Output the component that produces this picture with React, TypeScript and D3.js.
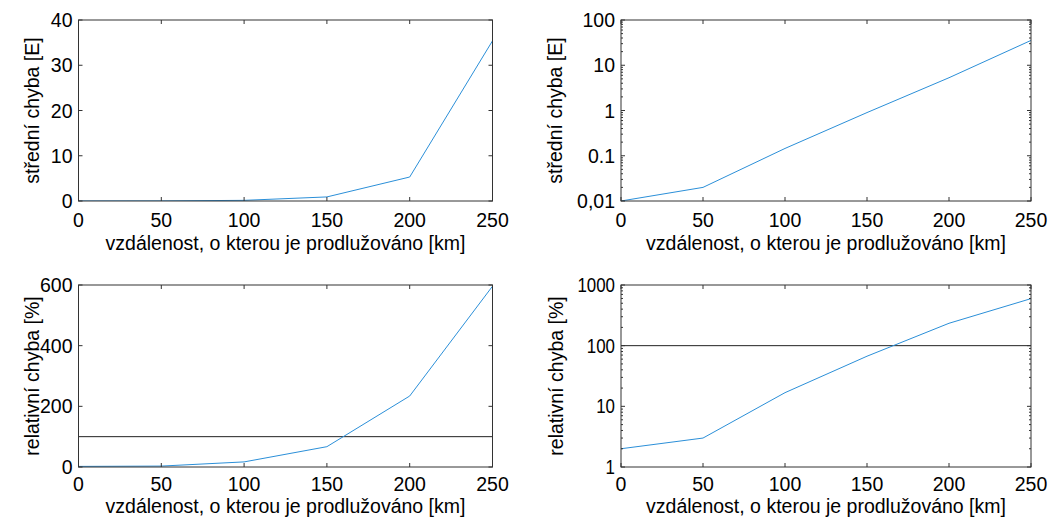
import React from "react";
import * as d3 from "d3";

const distances = [0, 50, 100, 150, 200, 250];
const meanError = [0.01, 0.02, 0.145, 0.9, 5.3, 35.4];
const relError = [2.0, 3.0, 16.8, 67, 234, 596];
const threshold = 100;

const xTicks = [0, 50, 100, 150, 200, 250];
const meanLinTicks = [0, 10, 20, 30, 40];
const meanLogTicks = [0.01, 0.1, 1, 10, 100];
const meanLogLabels = ["0,01", "0.1", "1", "10", "100"];
const relLinTicks = [0, 200, 400, 600];
const relLogTicks = [1, 10, 100, 1000];
const relLogLabels = ["1", "10", "100", "1000"];

const xLabel = "vzdálenost, o kterou je prodlužováno [km]";
const meanYLabel = "střední chyba [E]";
const relYLabel = "relativní chyba [%]";

const FONT = "'Liberation Sans', Arial, sans-serif";
const FS = 19.5;
const LINE = "#2b8fd8";
const AXIS = "#333333";

type PanelProps = {
  left: number; right: number; top: number; bottom: number;
  log: boolean; yDomain: [number, number]; yTicks: number[]; yLabels: string[];
  values: number[]; yLabel: string; yLabelX: number; hline?: number;
  tickBase: number; labelBase: number; yTickLen?: number;
};

function Panel(p: PanelProps) {
  const x = d3.scaleLinear().domain([0, 250]).range([p.left, p.right]);
  const y = p.log
    ? d3.scaleLog().domain(p.yDomain).range([p.bottom, p.top])
    : d3.scaleLinear().domain(p.yDomain).range([p.bottom, p.top]);
  const line = d3.line<number>().x((_, i) => x(distances[i])).y((v) => y(v));
  const minor: number[] = [];
  if (p.log) {
    for (let e = Math.log10(p.yDomain[0]); e < Math.log10(p.yDomain[1]) - 1e-9; e++) {
      for (let k = 2; k <= 9; k++) minor.push(k * Math.pow(10, e));
    }
  }
  const mid = (p.top + p.bottom) / 2;
  return (
    <g fontFamily={FONT} fontSize={FS} fill="#000">
      <defs>
        <clipPath id={`clip${p.left}${p.top}`}>
          <rect x={p.left} y={p.top} width={p.right - p.left} height={p.bottom - p.top} />
        </clipPath>
      </defs>
      {p.hline !== undefined && (
        <line x1={p.left} x2={p.right} y1={y(p.hline)} y2={y(p.hline)} stroke="#222" strokeWidth={1} />
      )}
      <path d={line(p.values) || ""} fill="none" stroke={LINE} strokeWidth={1} clipPath={`url(#clip${p.left}${p.top})`} />
      <rect x={p.left} y={p.top} width={p.right - p.left} height={p.bottom - p.top} fill="none" stroke={AXIS} strokeWidth={1} />
      {xTicks.map((t) => (
        <g key={"x" + t}>
          <line x1={x(t)} x2={x(t)} y1={p.bottom} y2={p.bottom - 4} stroke={AXIS} />
          <line x1={x(t)} x2={x(t)} y1={p.top} y2={p.top + 4} stroke={AXIS} />
          <text x={x(t)} y={p.bottom + p.tickBase} textAnchor="middle">{t}</text>
        </g>
      ))}
      {p.yTicks.map((t, i) => (
        <g key={"y" + t}>
          <line x1={p.left} x2={p.left + 4} y1={y(t)} y2={y(t)} stroke={AXIS} />
          <line x1={p.right} x2={p.right - 4} y1={y(t)} y2={y(t)} stroke={AXIS} />
          <text x={p.left - 6} y={y(t)} dy="0.36em" textAnchor="end"
            {...(p.yTickLen ? { textLength: p.yTickLen * p.yLabels[i].length, lengthAdjust: "spacingAndGlyphs" } : {})}>
            {p.yLabels[i]}
          </text>
        </g>
      ))}
      {minor.map((t) => (
        <g key={"m" + t}>
          <line x1={p.left} x2={p.left + 2} y1={y(t)} y2={y(t)} stroke={AXIS} />
          <line x1={p.right} x2={p.right - 2} y1={y(t)} y2={y(t)} stroke={AXIS} />
        </g>
      ))}
      <text x={(p.left + p.right) / 2} y={p.bottom + p.labelBase} textAnchor="middle">{xLabel}</text>
      <text transform={`translate(${p.yLabelX},${mid}) rotate(-90)`} textAnchor="middle">{p.yLabel}</text>
    </g>
  );
}

export default function App() {
  return (
    <svg width={1058} height={518} style={{ position: "absolute", left: 0, top: 0, background: "#fff" }}>
      <rect width={1058} height={518} fill="#fff" />
      <Panel left={78.5} right={492.5} top={20} bottom={201} log={false} yDomain={[0, 40]}
        yTicks={meanLinTicks} yLabels={meanLinTicks.map(String)} values={meanError}
        yLabel={meanYLabel} yLabelX={39} tickBase={26} labelBase={49} />
      <Panel left={621} right={1031} top={20} bottom={201} log={true} yDomain={[0.01, 100]}
        yTicks={meanLogTicks} yLabels={meanLogLabels} values={meanError}
        yLabel={meanYLabel} yLabelX={562} tickBase={26} labelBase={49} />
      <Panel left={78.5} right={492.5} top={285} bottom={467} log={false} yDomain={[0, 600]}
        yTicks={relLinTicks} yLabels={relLinTicks.map(String)} values={relError} hline={threshold}
        yLabel={relYLabel} yLabelX={39} tickBase={24} labelBase={46} />
      <Panel left={621} right={1031} top={285} bottom={467} log={true} yDomain={[1, 1000]}
        yTicks={relLogTicks} yLabels={relLogLabels} values={relError} hline={threshold}
        yLabel={relYLabel} yLabelX={563} tickBase={24} labelBase={46} yTickLen={9.4} />
    </svg>
  );
}
